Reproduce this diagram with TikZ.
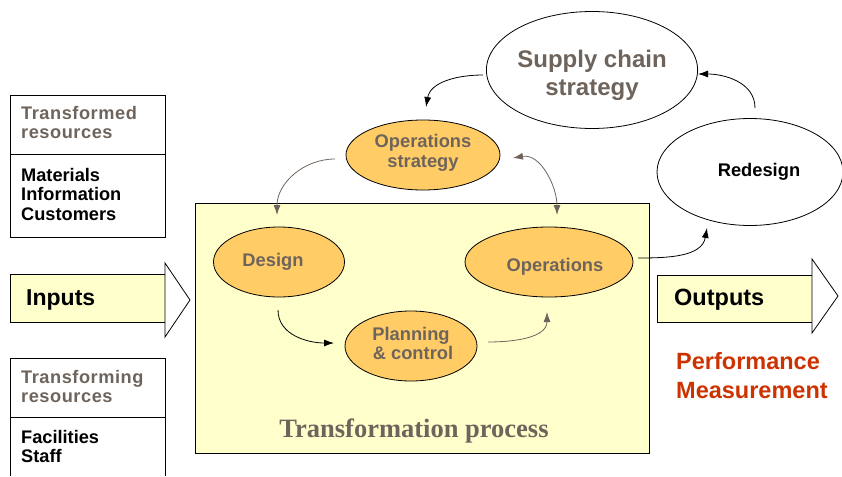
\documentclass[tikz,border=0pt]{standalone}
\usepackage{fontspec}
\setmainfont{Liberation Serif}
\setsansfont{Liberation Sans}
\usetikzlibrary{arrows.meta,shapes.geometric}
\definecolor{boxyellow}{HTML}{FFFFCC}
\definecolor{ellorange}{HTML}{FFCC66}
\definecolor{greybrown}{HTML}{6E645C}
\definecolor{perfred}{HTML}{CC3300}
\newcommand\shiftup[2]{\raisebox{#1}[\height][\depth]{#2}}
\tikzset{
  oval/.style={ellipse, draw=black, line width=0.8pt, fill=ellorange, inner sep=0pt, font=\sffamily\bfseries\fontsize{18.3}{20}\selectfont, text=greybrown, align=center},
  whiteoval/.style={ellipse, draw=black, line width=0.8pt, fill=white, inner sep=0pt, align=center},
  conn/.style={line width=0.8pt, -{Latex[length=10pt,width=7pt]}},
  gconn/.style={conn, draw=greybrown},
  lbl/.style={font=\sffamily\bfseries\fontsize{18.2}{19.5}\selectfont, align=left, anchor=north west, inner sep=0pt},
  frame/.style={draw=black, line width=0.8pt},
}
\begin{document}
\begin{tikzpicture}[x=1pt,y=-1pt]
\useasboundingbox (0,0) rectangle (842,476);
% transformation box
\node[frame, fill=boxyellow, minimum width=454pt, minimum height=250pt, inner sep=0pt, anchor=north west] (tp) at (195,203) {};
\node[font=\rmfamily\bfseries\fontsize{26.5}{28}\selectfont, text=greybrown] (tptext) at (414,431) {Transformation process};
% ellipses
\node[oval, minimum width=154pt, minimum height=70pt] (opstrat) at (423,155) {\shiftup{2pt}{Operations}\\\shiftup{2pt}{strategy}};
\node[oval, minimum width=131pt, minimum height=70pt] (design) at (279,262) {Design\hspace*{12pt}};
\node[oval, minimum width=168pt, minimum height=70pt] (ops) at (549,262) {\shiftup{-5pt}{\hspace*{12pt}Operations}};
\node[oval, minimum width=132pt, minimum height=70pt] (plan) at (411,346) {\shiftup{3pt}{Planning}\\[-1pt]\shiftup{3pt}{\hspace*{4pt}\& control}};
\node[whiteoval, minimum width=202pt, minimum height=117pt, font=\sffamily\bfseries\fontsize{24}{28}\selectfont, text=greybrown] (supply) at (592,70) {\shiftup{-5pt}{Supply chain}\\\shiftup{-5pt}{strategy}};
\node[whiteoval, minimum width=186pt, minimum height=107pt, font=\sffamily\bfseries\fontsize{18.3}{20}\selectfont] (redesign) at (750,172) {\hspace*{18pt}Redesign};
% left boxes
\draw[frame] (10,95) rectangle (165,237);
\draw[frame] (10,154) -- (165,154);
\node[lbl, text=greybrown] (tfd) at (21,106) {\addfontfeature{LetterSpace=3}Transformed\\\addfontfeature{LetterSpace=3}resources};
\node[lbl] (mat) at (21,168) {Materials\\Information\\Customers};
\draw[frame] (10,476) -- (10,358) -- (165,358) -- (165,476);
\draw[frame] (10,417) -- (165,417);
\node[lbl, text=greybrown] (tfg) at (21,370) {\addfontfeature{LetterSpace=3}Transforming\\\addfontfeature{LetterSpace=3}resources};
\node[lbl] (fac) at (21,430) {Facilities\\Staff};
% inputs arrow
\node[frame, fill=boxyellow, minimum width=155pt, minimum height=48pt, inner sep=0pt, anchor=north west] (inputs) at (10,274) {};
\node[font=\sffamily\bfseries\fontsize{23}{24}\selectfont, anchor=west, inner sep=0pt] (inputstext) at (26,300) {Inputs};
\draw[frame, fill=white] (165,263) -- (190,300) -- (165,337) -- cycle;
% outputs arrow
\node[frame, fill=boxyellow, minimum width=155pt, minimum height=47pt, inner sep=0pt, anchor=north west] (outputs) at (657,275) {};
\node[font=\sffamily\bfseries\fontsize{23.5}{24}\selectfont, anchor=west, inner sep=0pt] (outputstext) at (674,300) {Outputs};
\draw[frame, fill=white] (812,259) -- (838,296) -- (812,333) -- cycle;
% performance
\node[font=\sffamily\bfseries\fontsize{23.5}{29}\selectfont, text=perfred, align=left, anchor=north west, inner sep=0pt] (perf) at (676,352) {Performance\\Measurement};
% connector endpoints
\coordinate (a1s) at (335,159);
\coordinate (a1e) at (277,215);
\coordinate (a2s) at (513,158);
\coordinate (a2e) at (557,215);
\coordinate (a3s) at (278,310);
\coordinate (a3e) at (334,343);
\coordinate (a4s) at (488,342);
\coordinate (a4e) at (547,312);
\coordinate (a5s) at (638,258);
\coordinate (a5e) at (707,228);
\coordinate (a6s) at (755,108);
\coordinate (a6e) at (698,74);
\coordinate (a7s) at (483,75);
\coordinate (a7e) at (426,107);
% connectors
\draw[gconn] (a1s) to[out=180,in=90] (a1e);
\draw[gconn, {Latex[length=10pt,width=7pt]}-{Latex[length=10pt,width=7pt]}] (a2s) to[out=10,in=90] (a2e);
\draw[conn] (a3s) to[out=-90,in=180] (a3e);
\draw[gconn] (a4s) to[out=0,in=-90] (a4e);
\draw[conn] (a5s) to[out=0,in=-100] (a5e);
\draw[conn] (a6s) to[out=90,in=0] (a6e);
\draw[conn] (a7s) to[out=180,in=80] (a7e);
\end{tikzpicture}
\end{document}
